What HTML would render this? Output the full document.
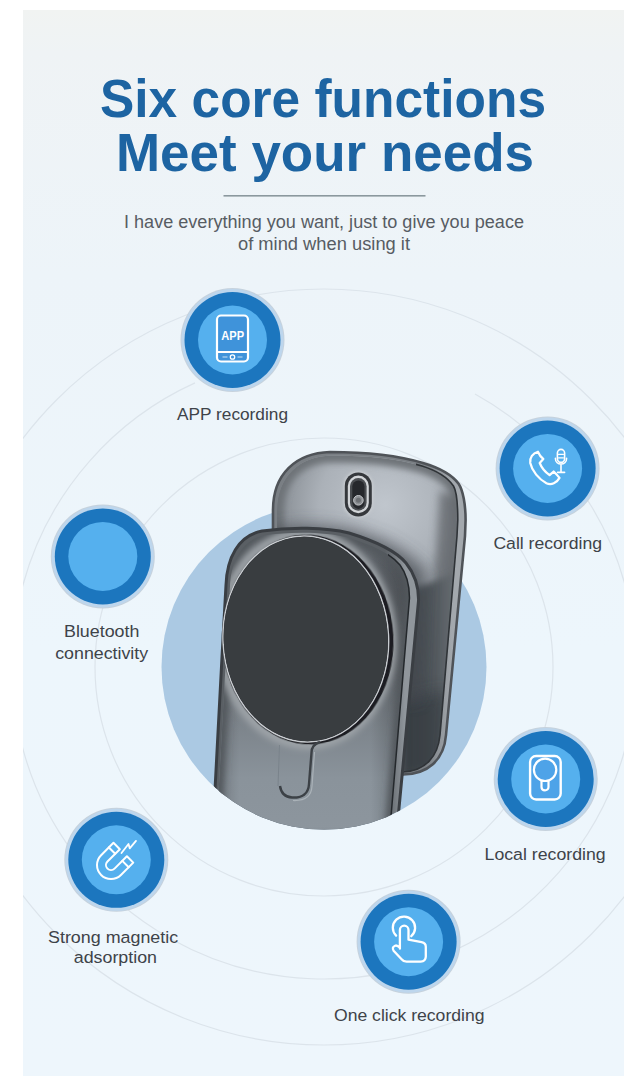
<!DOCTYPE html>
<html>
<head>
<meta charset="utf-8">
<style>
html,body{margin:0;padding:0;width:640px;height:1087px;overflow:hidden;background:#ffffff;}
svg{display:block;position:absolute;left:0;top:0;}
text{font-family:"Liberation Sans",sans-serif;}
</style>
</head>
<body>
<svg width="640" height="1087" viewBox="0 0 640 1087">
<defs>
  <linearGradient id="panelG" x1="0" y1="0" x2="0" y2="1">
    <stop offset="0" stop-color="#f1f3f2"/>
    <stop offset="0.04" stop-color="#eff3f5"/>
    <stop offset="0.25" stop-color="#edf4f9"/>
    <stop offset="0.6" stop-color="#edf6fc"/>
    <stop offset="1" stop-color="#eef6fc"/>
  </linearGradient>
  <clipPath id="prodClip">
    <circle cx="324" cy="667" r="162.5"/>
    <rect x="0" y="0" width="640" height="640"/>
  </clipPath>
  <radialGradient id="bdBody" gradientUnits="userSpaceOnUse" cx="385" cy="505" r="120">
    <stop offset="0" stop-color="#c0c6cd"/>
    <stop offset="0.55" stop-color="#abb1b8"/>
    <stop offset="1" stop-color="#7d8389"/>
  </radialGradient>
  <linearGradient id="bdSide" x1="0" y1="0" x2="1" y2="0">
    <stop offset="0" stop-color="#3d4247"/>
    <stop offset="0.5" stop-color="#4f555a"/>
    <stop offset="1" stop-color="#6d7378"/>
  </linearGradient>
  <linearGradient id="fdBody" x1="0" y1="0" x2="0" y2="1">
    <stop offset="0" stop-color="#5a5f65"/>
    <stop offset="0.45" stop-color="#6f757b"/>
    <stop offset="0.8" stop-color="#8a939b"/>
    <stop offset="1" stop-color="#8d969e"/>
  </linearGradient>
  <linearGradient id="fdH" x1="0" y1="0" x2="1" y2="0">
    <stop offset="0" stop-color="#000" stop-opacity="0.18"/>
    <stop offset="0.12" stop-color="#000" stop-opacity="0"/>
    <stop offset="0.8" stop-color="#000" stop-opacity="0"/>
    <stop offset="1" stop-color="#000" stop-opacity="0.28"/>
  </linearGradient>
  <clipPath id="bdClip"><use href="#bdS"/></clipPath>
  <clipPath id="bdIClip"><use href="#bdI"/></clipPath>
  <clipPath id="fdIClip"><use href="#fdI"/></clipPath>
  <clipPath id="fdClip"><use href="#fdS"/></clipPath>
  <clipPath id="rightClip"><rect x="388" y="0" width="100" height="1087"/></clipPath>
  <clipPath id="bdRightClip"><path d="M420 440 L480 440 L480 800 L400 800 L400 560 Z"/></clipPath>
  <clipPath id="panelClip"><rect x="23" y="10" width="601" height="1066"/></clipPath>
  <path id="bdS" d="M273 800 L273 510 C273 474 296 453 330 452 C370 452 400 456 423 463 C440 468 452 475 458.6 483.7 C463 490 465.6 505 465.6 520 L465 536 L446 735 C444 760 428 774 403 774.5 L290 800 Z"/>
  <path id="bdI" d="M277 800 L277 511 C277 477 299 456.5 331 455.5 C370 455.5 400 459.5 422 466 C438 471 448 478 453.5 486 C457 492 457.8 505 457.8 520 L457 536 L440 735 C438 757 425 771 403 772 L290 800 Z"/>
  <path id="fdS" d="M212 840 L215.3 784 L222 657 L226 585 C227 558 238 536 262 531 C290 527 325 527 349 533 C375 541 396 551 406 563 C414 573 418.6 585 418.6 600 L396 840 Z"/>
  <path id="fdI" d="M216 840 L219 784 L226 657 L230 586 C231 562 241 541 263 535.5 C290 531.5 325 531.5 348 537.5 C373 545 391 554 400 565 C406 573 409.5 585 409.5 598 L389 840 Z"/>
  <filter id="blur05" x="-20%" y="-20%" width="140%" height="140%"><feGaussianBlur stdDeviation="0.6"/></filter>
  <filter id="blur1" x="-20%" y="-20%" width="140%" height="140%"><feGaussianBlur stdDeviation="1.5"/></filter>
  <filter id="blur3" x="-20%" y="-20%" width="140%" height="140%"><feGaussianBlur stdDeviation="3"/></filter>
  <filter id="blur4" x="-30%" y="-30%" width="160%" height="160%"><feGaussianBlur stdDeviation="4"/></filter>
  <filter id="blur8" x="-30%" y="-30%" width="160%" height="160%"><feGaussianBlur stdDeviation="8"/></filter>
  <linearGradient id="bdRim" gradientUnits="userSpaceOnUse" x1="425" y1="0" x2="452" y2="0">
    <stop offset="0" stop-color="#7a7f84"/>
    <stop offset="1" stop-color="#a3a8ad"/>
  </linearGradient>
  <linearGradient id="fdRim" gradientUnits="userSpaceOnUse" x1="385" y1="0" x2="405" y2="0">
    <stop offset="0" stop-color="#5a5f64"/>
    <stop offset="1" stop-color="#90969c"/>
  </linearGradient>
</defs>

<!-- panel -->
<rect x="23" y="10" width="601" height="1066" fill="url(#panelG)"/>

<!-- concentric lines -->
<g fill="none" stroke="#dce4eb" stroke-width="1.2" clip-path="url(#panelClip)">
  <circle cx="324" cy="667" r="229"/>
  <path d="M475.0 394.0 A312 312 0 1 1 195.0 382.9"/>
  <circle cx="324" cy="667" r="378"/>
</g>

<!-- title -->
<g fill="#1d64a2" font-weight="bold">
<text x="100" y="117" font-size="53" textLength="446" lengthAdjust="spacingAndGlyphs">Six core functions</text>
<text x="116" y="170.5" font-size="53" textLength="418" lengthAdjust="spacingAndGlyphs">Meet your needs</text>
</g>
<rect x="223.5" y="195" width="202" height="1.6" fill="#8b989e"/>
<g fill="#575c63" font-size="17.5">
<text x="124" y="228" textLength="400" lengthAdjust="spacingAndGlyphs">I have everything you want, just to give you peace</text>
<text x="238" y="250" textLength="172" lengthAdjust="spacingAndGlyphs">of mind when using it</text>
</g>

<!-- big circle -->
<circle cx="324" cy="667" r="162.5" fill="#abc9e3"/>

<!-- PRODUCT -->
<g clip-path="url(#prodClip)">
  <!-- back device -->
  <use href="#bdS" fill="url(#bdRim)"/>
  <use href="#bdI" fill="url(#bdBody)"/>
  <g clip-path="url(#bdIClip)">
    <use href="#bdI" fill="none" stroke="#6e7378" stroke-width="14" filter="url(#blur3)"/>
    <path d="M440 490 L462 500 L445 740 L425 740 Z" fill="#676c71" opacity="0.85" filter="url(#blur4)"/>
    <path d="M400 590 C420 588 440 580 462 570 L446 735 C444 760 428 774 403 774.5 Z" fill="url(#bdSide)" filter="url(#blur3)"/>
    <path d="M400 700 L450 690 L445 780 L400 780 Z" fill="#33373c" opacity="0.6" filter="url(#blur8)"/>
    <path d="M225 560 C255 515 370 510 425 570 L420 700 L215 700 Z" fill="#454a4f" opacity="0.75" filter="url(#blur8)"/>
  </g>
  <use href="#bdI" fill="none" stroke="#2f3337" stroke-width="1.6" clip-path="url(#bdRightClip)"/>
  <use href="#bdS" fill="none" stroke="#4f5358" stroke-width="2.6"/>
  <!-- camera -->
  <rect x="343.6" y="471.2" width="29.4" height="46.4" rx="14.7" fill="#c9cdd1" filter="url(#blur1)"/>
  <rect x="344.8" y="472.4" width="27" height="44" rx="13.5" fill="#35383c"/>
  <rect x="347.8" y="475.6" width="21" height="37.6" rx="10.5" fill="#d2d5d8"/>
  <rect x="350" y="478" width="16.6" height="32.8" rx="8.3" fill="#4a4d51"/>
  <rect x="352.3" y="480.5" width="12.2" height="28.4" rx="6.1" fill="#26282c"/>
  <circle cx="358.4" cy="500.3" r="4.8" fill="#8e9195" stroke="#c4c7ca" stroke-width="1"/>
  <circle cx="358.4" cy="500.3" r="2.5" fill="#6c6f73"/>

  <!-- front device -->
  <use href="#fdS" fill="url(#fdRim)"/>
  <use href="#fdI" fill="url(#fdBody)"/>
  <g clip-path="url(#fdIClip)">
    <use href="#fdI" fill="url(#fdH)"/>
    <use href="#fdI" fill="none" stroke="#53585d" stroke-width="10" filter="url(#blur3)"/>
    <ellipse cx="306" cy="639" rx="86" ry="106" transform="rotate(-3 306 639)" fill="none" stroke="#9fa4a9" stroke-width="9" filter="url(#blur3)"/>
  </g>
  <use href="#fdI" fill="none" stroke="#24282c" stroke-width="1.5" clip-path="url(#rightClip)"/>
  <use href="#fdS" fill="none" stroke="#3a3e43" stroke-width="3"/>

  <!-- disk -->
  <ellipse cx="307.8" cy="639.6" rx="85.6" ry="104.8" transform="rotate(-3 306 639)" fill="#1c1f22" filter="url(#blur05)"/>
  <ellipse cx="305.8" cy="639" rx="82.8" ry="103" transform="rotate(-3 306 639)" fill="none" stroke="#c8ccd0" stroke-width="1.5"/>
  <ellipse cx="305.8" cy="639" rx="82" ry="102.2" transform="rotate(-3 306 639)" fill="#393d40"/>

  <!-- slot -->
  <path d="M320 742 C313 744 311.5 748 311.5 753 L309 784 C308.5 794 302 798 292 797.5 C285 797 281 793 280 786" fill="none" stroke="#3c4146" stroke-width="2.4"/>
  <path d="M314.5 752 L312 786 C311.5 796 305 801 293 800.5" fill="none" stroke="#aab2b8" stroke-width="1.2"/>
  <path d="M279.5 745 L278 786" fill="none" stroke="#7a838b" stroke-width="1"/>
</g>

<!-- ICONS -->
<g id="icons">
  <!-- APP -->
  <g transform="translate(232.5 340)">
    <circle r="52" fill="#c6d2dd"/>
    <circle r="51" fill="#bdd6ed"/>
    <circle r="48" fill="#1c76be"/>
    <circle r="34.5" fill="#55b0ee"/>
    <rect x="-15.5" y="-24.5" width="31" height="46" rx="4" fill="#3f93da" stroke="#ffffff" stroke-width="2.2"/>
    <line x1="-15.5" y1="12" x2="15.5" y2="12" stroke="#ffffff" stroke-width="2"/>
    <circle cx="0" cy="17" r="2.2" fill="none" stroke="#ffffff" stroke-width="1.3"/>
    <line x1="-10" y1="17" x2="-5" y2="17" stroke="#ffffff" stroke-width="1.2" opacity="0.6"/>
    <line x1="5" y1="17" x2="10" y2="17" stroke="#ffffff" stroke-width="1.2" opacity="0.6"/>
    <text x="-11.2" y="-0.5" font-size="12.3" font-weight="bold" fill="#ffffff" textLength="22.8" lengthAdjust="spacingAndGlyphs">APP</text>
  </g>
  <!-- Call -->
  <g transform="translate(547.6 468.4)">
    <circle r="52" fill="#c6d2dd"/>
    <circle r="51" fill="#bdd6ed"/>
    <circle r="48" fill="#1c76be"/>
    <circle r="34.5" fill="#55b0ee"/>
    <g fill="none" stroke="#ffffff" stroke-width="2" stroke-linejoin="round" stroke-linecap="round">
      <path transform="translate(-1.6 0) scale(0.9)" stroke-width="2.5" d="M-9 -18.5 C-7.5 -15 -5 -12 -3 -10.5 L-7 -6 C-5 -1 -1 4 4 7.5 L8.5 3.5 C10.5 5.5 13 8 15 10.5 C12 16 6 19 0.5 16.5 C-8 12 -15.5 3 -17.5 -6 C-18.5 -12 -14.5 -17 -9 -18.5 Z"/>
      <rect x="9.8" y="-19" width="7.2" height="13" rx="3.6" stroke-width="1.6"/>
      <path d="M7.8 -10 C7.8 -2.5 19 -2.5 19 -10" stroke-width="1.6"/>
      <path d="M13.4 -3.5 L13.4 3.5 M10 4 L17 4" stroke-width="1.6"/>
      <path d="M11 -14 L15.8 -14 M11 -10.5 L15.8 -10.5" stroke-width="1.2"/>
    </g>
  </g>
  <!-- Bluetooth -->
  <g transform="translate(102.8 556.4)">
    <circle r="52" fill="#c6d2dd"/>
    <circle r="51" fill="#bdd6ed"/>
    <circle r="48" fill="#1c76be"/>
    <circle r="34.5" fill="#55b0ee"/>
  </g>
  <!-- Local -->
  <g transform="translate(545.7 779)">
    <circle r="52" fill="#c6d2dd"/>
    <circle r="51" fill="#bdd6ed"/>
    <circle r="48" fill="#1c76be"/>
    <circle r="34.5" fill="#55b0ee"/>
    <g fill="none" stroke="#ffffff" stroke-width="2.4">
      <rect x="-15.6" y="-23" width="30.6" height="43.5" rx="6" fill="#4ea3e8"/>
      <circle cx="-0.6" cy="-9.2" r="11.2" stroke-width="2.2"/>
      <path d="M-4.2 1.5 L-4.2 8 C-4.2 12.5 2.8 12.5 2.8 8 L2.8 1.5" stroke-width="2.2"/>
    </g>
  </g>
  <!-- Magnet -->
  <g transform="translate(116.3 859.8)">
    <circle r="52" fill="#c6d2dd"/>
    <circle r="51" fill="#bdd6ed"/>
    <circle r="48" fill="#1c76be"/>
    <circle r="34.5" fill="#55b0ee"/>
    <g fill="none" stroke="#ffffff" stroke-width="2" stroke-linejoin="round" stroke-linecap="round">
      <g transform="translate(-5.3 5.3) rotate(45)">
        <path d="M-14 -17.5 L-5 -17.5 L-5 0 A5 5 0 0 0 5 0 L5 -17.5 L14 -17.5 L14 0 A14 14 0 0 1 -14 0 Z"/>
        <path d="M-14 -11 L-5 -11 M5 -11 L14 -11"/>
      </g>
      <path d="M5.2 -6.8 L12.2 -15.8 L13.4 -11.5 L19.7 -18.9" stroke-width="1.8"/>
    </g>
  </g>
  <!-- One click -->
  <g transform="translate(408.6 941.7)">
    <circle r="52" fill="#c6d2dd"/>
    <circle r="51" fill="#bdd6ed"/>
    <circle r="48" fill="#1c76be"/>
    <circle r="34.5" fill="#55b0ee"/>
    <g fill="none" stroke="#ffffff" stroke-width="2.3" stroke-linejoin="round" stroke-linecap="round">
      <path d="M-12.5 -6.07 A11.15 11.15 0 1 1 2.66 -5.54"/>
      <path d="M-8.7 7 L-8.7 -11.7 A4.3 4.3 0 0 1 -0.1 -11.7 L-0.1 -2 L13 0.5 Q17.2 1.5 17.2 5 L17.2 15 Q17 19.5 12 20 L-2 20 Q-5 20 -7 17.5 L-15 9 Q-17 5.5 -13.5 4 Q-11.5 3.2 -8.7 6"/>
    </g>
  </g>
</g>

<!-- LABELS -->
<g fill="#3e4349" font-size="17.2">
  <text x="177" y="420" textLength="111" lengthAdjust="spacingAndGlyphs">APP recording</text>
  <text x="493.4" y="548.7" textLength="108.6" lengthAdjust="spacingAndGlyphs">Call recording</text>
  <text x="64" y="636.6" textLength="75.4" lengthAdjust="spacingAndGlyphs">Bluetooth</text>
  <text x="55.2" y="658.7" textLength="93" lengthAdjust="spacingAndGlyphs">connectivity</text>
  <text x="484.6" y="860" textLength="121" lengthAdjust="spacingAndGlyphs">Local recording</text>
  <text x="48" y="943" textLength="130.2" lengthAdjust="spacingAndGlyphs">Strong magnetic</text>
  <text x="73.8" y="962.5" textLength="83.2" lengthAdjust="spacingAndGlyphs">adsorption</text>
  <text x="334" y="1021" textLength="150.5" lengthAdjust="spacingAndGlyphs">One click recording</text>
</g>

</svg>
</body>
</html>
